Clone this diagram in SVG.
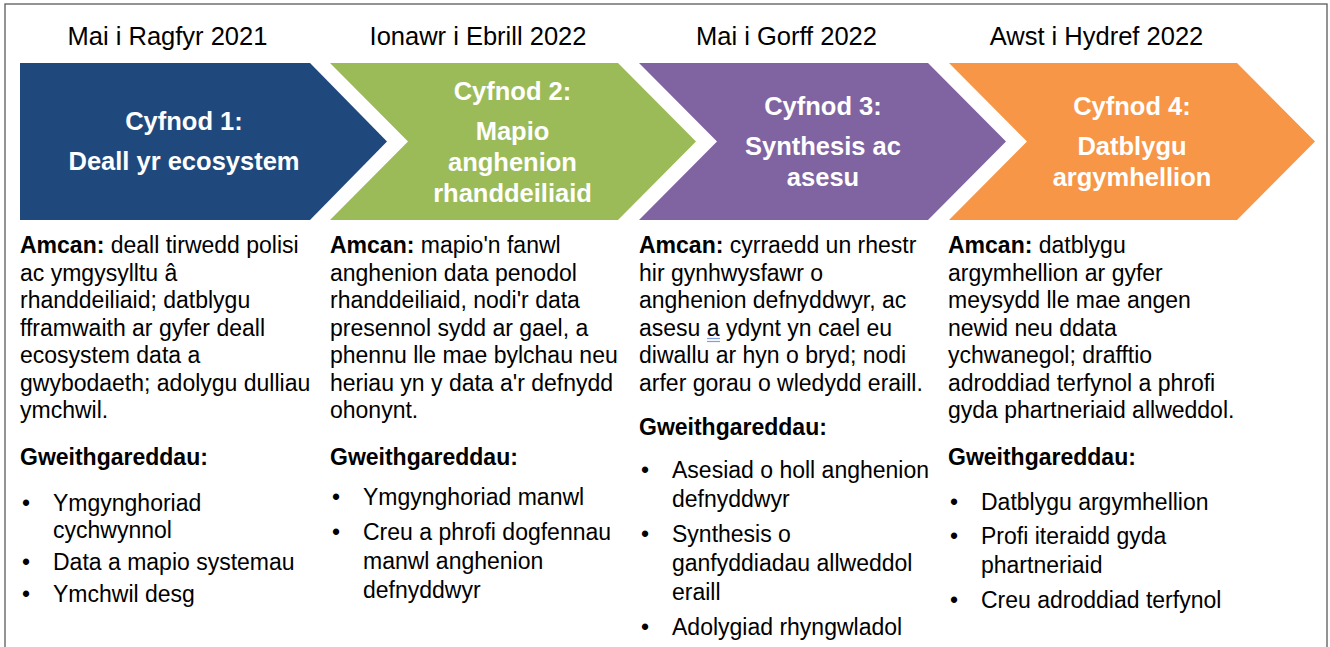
<svg xmlns="http://www.w3.org/2000/svg" width="1330" height="647" viewBox="0 0 1330 647">
<style>
.date{font-family:"Liberation Sans",Arial,sans-serif;font-size:25.5px;fill:#000;text-anchor:middle}
.title{font-family:"Liberation Sans",Arial,sans-serif;font-size:25.5px;font-weight:bold;fill:#fff;text-anchor:middle}
.body{font-family:"Liberation Sans",Arial,sans-serif;font-size:23px;fill:#000}
.b{font-weight:bold}
.ul{stroke:#7f9fe0;stroke-width:1.2}
</style>
<rect x="0" y="0" width="1330" height="647" fill="#fff"/>
<rect x="5" y="4" width="1322" height="660" fill="none" stroke="#5a5a5a" stroke-width="1.3"/>

<g id="phase1">
<text class="date" x="167.5" y="45">Mai i Ragfyr 2021</text>
<polygon points="20,63 310,63 387,141.5 310,220 20,220" fill="#1F497D"/>
<text class="title" x="184" y="130">Cyfnod 1:</text>
<text class="title" x="184" y="170">Deall yr ecosystem</text>
<g class="body">
<text x="20" y="253"><tspan class="b">Amcan:</tspan> deall tirwedd polisi</text>
<text x="20" y="280.5">ac ymgysylltu â</text>
<text x="20" y="308">rhanddeiliaid; datblygu</text>
<text x="20" y="335.5">fframwaith ar gyfer deall</text>
<text x="20" y="363">ecosystem data a</text>
<text x="20" y="390.5">gwybodaeth; adolygu dulliau</text>
<text x="20" y="418">ymchwil.</text>
<text x="20" y="465" class="b">Gweithgareddau:</text>
<text x="22" y="511">•</text><text x="53" y="511">Ymgynghoriad</text>
<text x="53" y="538">cychwynnol</text>
<text x="22" y="570">•</text><text x="53" y="570">Data a mapio systemau</text>
<text x="22" y="601.5">•</text><text x="53" y="601.5">Ymchwil desg</text>
</g>
</g>

<g id="phase2">
<text class="date" x="478" y="45">Ionawr i Ebrill 2022</text>
<polygon points="330,63 618,63 696,141.5 618,220 330,220 408,141.5" fill="#9BBB59"/>
<text class="title" x="512.5" y="100">Cyfnod 2:</text>
<text class="title" x="512.5" y="140">Mapio</text>
<text class="title" x="512.5" y="171">anghenion</text>
<text class="title" x="512.5" y="202">rhanddeiliaid</text>
<g class="body">
<text x="330" y="253"><tspan class="b">Amcan:</tspan> mapio'n fanwl</text>
<text x="330" y="280.5">anghenion data penodol</text>
<text x="330" y="308">rhanddeiliaid, nodi'r data</text>
<text x="330" y="335.5">presennol sydd ar gael, a</text>
<text x="330" y="363">phennu lle mae bylchau neu</text>
<text x="330" y="390.5">heriau yn y data a'r defnydd</text>
<text x="330" y="418">ohonynt.</text>
<text x="330" y="465" class="b">Gweithgareddau:</text>
<text x="332" y="505">•</text><text x="363" y="505">Ymgynghoriad manwl</text>
<text x="332" y="540">•</text><text x="363" y="540">Creu a phrofi dogfennau</text>
<text x="363" y="569">manwl anghenion</text>
<text x="363" y="598">defnyddwyr</text>
</g>
</g>

<g id="phase3">
<text class="date" x="786.5" y="45">Mai i Gorff 2022</text>
<polygon points="639,63 928,63 1006,141.5 928,220 639,220 717,141.5" fill="#8064A2"/>
<text class="title" x="823" y="115">Cyfnod 3:</text>
<text class="title" x="823" y="155">Synthesis ac</text>
<text class="title" x="823" y="186">asesu</text>
<g class="body">
<text x="639" y="253"><tspan class="b">Amcan:</tspan> cyrraedd un rhestr</text>
<text x="639" y="280.5">hir gynhwysfawr o</text>
<text x="639" y="308">anghenion defnyddwyr, ac</text>
<text x="639" y="335.5">asesu a ydynt yn cael eu</text>
<text x="639" y="363">diwallu ar hyn o bryd; nodi</text>
<text x="639" y="390.5">arfer gorau o wledydd eraill.</text>
<text x="639" y="435" class="b">Gweithgareddau:</text>
<text x="641" y="478">•</text><text x="672" y="478">Asesiad o holl anghenion</text>
<text x="672" y="507">defnyddwyr</text>
<text x="641" y="542">•</text><text x="672" y="542">Synthesis o</text>
<text x="672" y="571">ganfyddiadau allweddol</text>
<text x="672" y="600">eraill</text>
<text x="641" y="635">•</text><text x="672" y="635">Adolygiad rhyngwladol</text>
</g>
<line class="ul" x1="707" y1="338.5" x2="720" y2="338.5"/>
<line class="ul" x1="707" y1="341.5" x2="720" y2="341.5"/>
</g>

<g id="phase4">
<text class="date" x="1096.5" y="45">Awst i Hydref 2022</text>
<polygon points="949,63 1237,63 1315,141.5 1237,220 949,220 1027,141.5" fill="#F79646"/>
<text class="title" x="1132" y="115">Cyfnod 4:</text>
<text class="title" x="1132" y="155">Datblygu</text>
<text class="title" x="1132" y="186">argymhellion</text>
<g class="body">
<text x="948" y="253"><tspan class="b">Amcan:</tspan> datblygu</text>
<text x="948" y="280.5">argymhellion ar gyfer</text>
<text x="948" y="308">meysydd lle mae angen</text>
<text x="948" y="335.5">newid neu ddata</text>
<text x="948" y="363">ychwanegol; drafftio</text>
<text x="948" y="390.5">adroddiad terfynol a phrofi</text>
<text x="948" y="418">gyda phartneriaid allweddol.</text>
<text x="948" y="465" class="b">Gweithgareddau:</text>
<text x="950" y="510">•</text><text x="981" y="510">Datblygu argymhellion</text>
<text x="950" y="544">•</text><text x="981" y="544">Profi iteraidd gyda</text>
<text x="981" y="573">phartneriaid</text>
<text x="950" y="608">•</text><text x="981" y="608">Creu adroddiad terfynol</text>
</g>
</g>

<g id="connectors"></g>
</svg>
